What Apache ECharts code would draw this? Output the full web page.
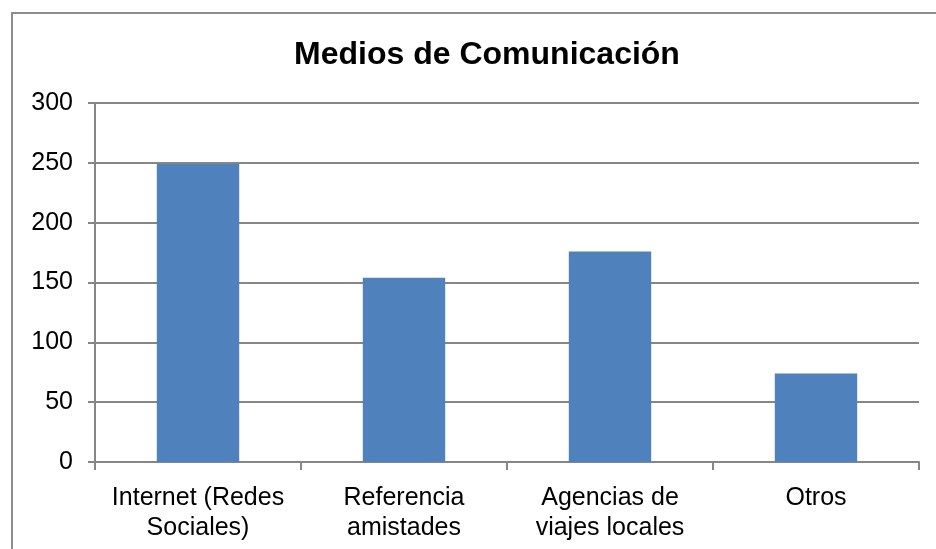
<!DOCTYPE html>
<html>
<head>
<meta charset="utf-8">
<script src="https://cdn.jsdelivr.net/npm/echarts@6/dist/echarts.min.js"></script>
<style>
  html, body { margin: 0; padding: 0; background: #fff; }
  #frame { position: absolute; left: 11px; top: 12px; width: 940px; height: 560px;
           border-left: 2px solid #8c8c8c; border-top: 2px solid #8c8c8c; }
  #chart { position: absolute; left: 0; top: 0; width: 936px; height: 549px; }
</style>
</head>
<body>
<div id="frame"></div>
<div id="chart"></div>
<script>
var categories = ['Internet (Redes\nSociales)', 'Referencia\namistades', 'Agencias de\nviajes locales', 'Otros'];
var values = [249, 154, 176, 74];
var yTicks = [0, 50, 100, 150, 200, 250, 300];

var chart = echarts.init(document.getElementById('chart'));
chart.setOption({
  animation: false,
  title: {
    text: 'Medios de Comunicación',
    left: 482,
    top: 34,
    textAlign: 'center',
    textStyle: { fontFamily: 'Liberation Sans', fontSize: 32, fontWeight: 'bold', color: '#000' }
  },
  grid: { left: 95, right: 17, top: 103, bottom: 87 },
  xAxis: {
    type: 'category',
    data: categories,
    axisLine: { lineStyle: { color: '#868686', width: 2 } },
    axisTick: { show: true, interval: 0, length: 8, lineStyle: { color: '#868686', width: 2 } },
    axisLabel: { interval: 0, hideOverlap: false, fontFamily: 'Liberation Sans', fontSize: 25, color: '#000', margin: 21, lineHeight: 30 }
  },
  yAxis: {
    type: 'value',
    min: yTicks[0],
    max: yTicks[yTicks.length - 1],
    interval: 50,
    axisLine: { show: true, lineStyle: { color: '#868686', width: 2 } },
    axisTick: { show: true, length: 7, lineStyle: { color: '#868686', width: 2 } },
    splitLine: { lineStyle: { color: '#868686', width: 2 } },
    axisLabel: { fontFamily: 'Liberation Sans', fontSize: 25, color: '#000', margin: 22 }
  },
  series: [{
    type: 'bar',
    data: values,
    barWidth: '40%',
    itemStyle: { color: '#4F81BD' }
  }]
});
</script>
</body>
</html>
